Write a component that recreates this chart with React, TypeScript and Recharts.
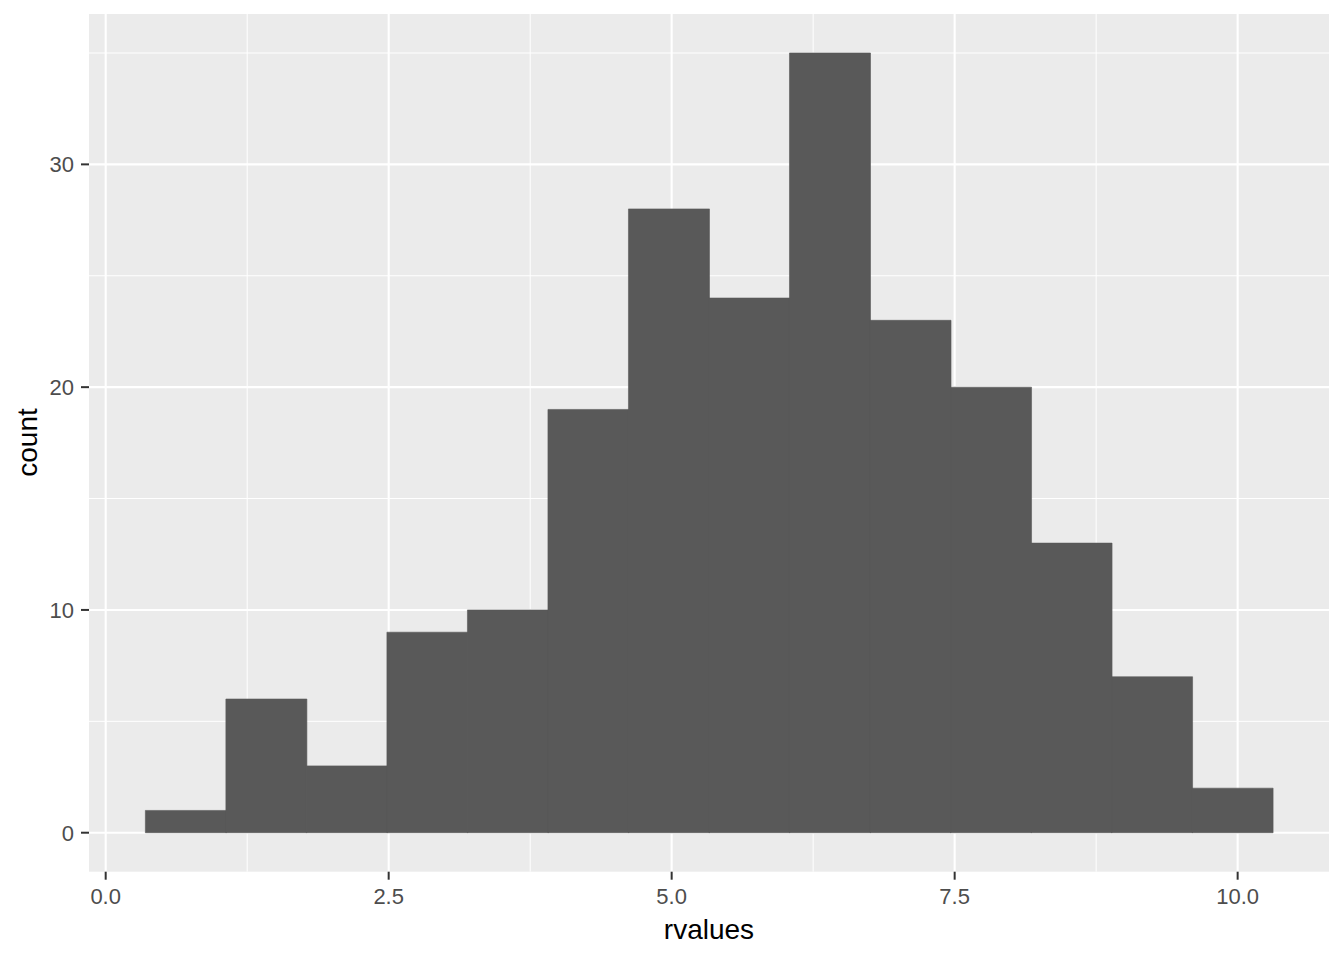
import { ComposedChart, Bar, XAxis, YAxis, CartesianGrid, Label } from "recharts";

// bin midpoints of rvalues (binwidth ~0.711) and the count in each bin
const binMids = [0.7062, 1.4175, 2.1288, 2.8401, 3.5514, 4.2627, 4.974, 5.6853, 6.3966, 7.1079, 7.8192, 8.5305, 9.2418, 9.9531];
const counts = [1, 6, 3, 9, 10, 19, 28, 24, 35, 23, 20, 13, 7, 2];

const xTicks = [0, 2.5, 5, 7.5, 10];
const xMinor = [1.25, 3.75, 6.25, 8.75];
const yTicks = [0, 10, 20, 30];
const yMinor = [5, 15, 25, 35];

const xDomain = [-0.1474, 10.807];
const yDomain = [-1.75, 36.75];

const data = binMids.map((mid, i) => ({ mid, count: counts[i] }));

const font = "'Liberation Sans', Arial, sans-serif";
const tickStyle = { fontSize: 22, fill: "#4D4D4D", fontFamily: font };

const App = () => {
  return (
    <div style={{ position: "absolute", left: 0, top: 0, width: 1344, height: 960, background: "#fff" }}>
      <ComposedChart
        width={1344}
        height={960}
        data={data}
        margin={{ top: 14, right: 15, left: 0, bottom: 0 }}
        barCategoryGap={0}
        barGap={0}
      >
        <CartesianGrid
          fill="#EBEBEB"
          stroke="#FFFFFF"
          strokeWidth={1}
          horizontalValues={yMinor}
          verticalValues={xMinor}
        />
        <CartesianGrid
          stroke="#FFFFFF"
          strokeWidth={2.1}
          horizontalValues={yTicks}
          verticalValues={xTicks}
        />
        <XAxis
          dataKey="mid"
          type="number"
          domain={xDomain}
          allowDataOverflow
          ticks={xTicks}
          tickFormatter={(v: number) => v.toFixed(1)}
          height={88.3}
          axisLine={false}
          tickSize={8}
          tickMargin={9}
          tickLine={{ stroke: "#333333", strokeWidth: 2 }}
          tick={tickStyle}
        >
          <Label
            value="rvalues"
            position="insideBottom"
            offset={21}
            style={{ fontSize: 28, fill: "#000000", fontFamily: font }}
          />
        </XAxis>
        <YAxis
          type="number"
          domain={yDomain}
          allowDataOverflow
          ticks={yTicks}
          width={89}
          axisLine={false}
          tickSize={8}
          tickMargin={7}
          tickLine={{ stroke: "#333333", strokeWidth: 2 }}
          tick={tickStyle}
        >
          <Label
            content={() => (
              <text
                transform="translate(37,442.5) rotate(-90)"
                textAnchor="middle"
                fontSize={28}
                fill="#000000"
                fontFamily={font}
              >
                count
              </text>
            )}
          />
        </YAxis>
        <Bar dataKey="count" fill="#595959" stroke="#595959" strokeWidth={0.6} isAnimationActive={false} />
      </ComposedChart>
    </div>
  );
};

export default App;
